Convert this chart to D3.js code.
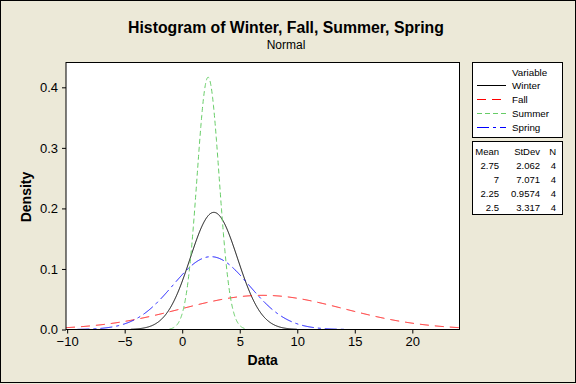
<!DOCTYPE html>
<html><head><meta charset="utf-8">
<script src="https://cdn.jsdelivr.net/npm/d3@7"></script>
<style>
html,body{margin:0;padding:0;background:#ECE9D8;}
svg{display:block;}
text{font-family:"Liberation Sans",Arial,sans-serif;fill:#000;}
</style></head>
<body><svg id="chart" width="576" height="384"></svg>
<script>
const variables = ["Winter", "Fall", "Summer", "Spring"];
const means = [2.75, 7, 2.25, 2.5];
const stdevs = [2.062, 7.071, 0.9574, 3.317];
const counts = [4, 4, 4, 4];
const xTicks = [-10, -5, 0, 5, 10, 15, 20];
const yTicks = [0, 0.1, 0.2, 0.3, 0.4];
const xDomain = [-10.1, 24.1];
const yDomain = [0, 0.441];

const colors = ["#000000", "#FF0000", "#66CC66", "#0000FF"];
const dashes = [null, "9,6", "5,3", "12,4,3,4"];

const svg = d3.select("#chart");
const W = 576, H = 384;
const plot = {left: 66, right: 459.5, top: 62.5, bottom: 329.5};

svg.append("rect").attr("x", 0).attr("y", 0).attr("width", W).attr("height", H).attr("fill", "#ECE9D8");
svg.append("rect").attr("x", 0.5).attr("y", 0.5).attr("width", 575).attr("height", 382)
  .attr("fill", "none").attr("stroke", "#000").attr("stroke-width", 1);

const x = d3.scaleLinear().domain(xDomain).range([plot.left, plot.right]);
const y = d3.scaleLinear().domain(yDomain).range([plot.bottom, plot.top]);

svg.append("rect").attr("x", plot.left).attr("y", plot.top)
  .attr("width", plot.right - plot.left).attr("height", plot.bottom - plot.top)
  .attr("fill", "#fff");

svg.append("defs").append("clipPath").attr("id", "clip").append("rect")
  .attr("x", plot.left).attr("y", plot.top - 1)
  .attr("width", plot.right - plot.left).attr("height", plot.bottom - plot.top + 2);

// Fitted normal density curves
const pdf = (v, m, s) => Math.exp(-0.5 * ((v - m) / s) ** 2) / (s * Math.sqrt(2 * Math.PI));
const line = d3.line().x(d => x(d[0])).y(d => y(d[1]));
const curves = svg.append("g").attr("clip-path", "url(#clip)");
variables.forEach((name, i) => {
  const lo = Math.max(xDomain[0], means[i] - 3.5 * stdevs[i]);
  const hi = Math.min(xDomain[1], means[i] + 3.5 * stdevs[i]);
  const pts = d3.range(lo, hi, 0.02).concat([hi]).map(v => [v, pdf(v, means[i], stdevs[i])]);
  curves.append("path").datum(pts).attr("d", line)
    .attr("fill", "none").attr("stroke", colors[i]).attr("stroke-width", 1)
    .attr("stroke-dasharray", dashes[i]);
});

// Plot frame
svg.append("rect").attr("x", plot.left).attr("y", plot.top)
  .attr("width", plot.right - plot.left).attr("height", plot.bottom - plot.top)
  .attr("fill", "none").attr("stroke", "#000").attr("stroke-width", 1);

// Axes
const xAxis = svg.append("g").attr("transform", `translate(0,${plot.bottom})`)
  .call(d3.axisBottom(x).tickValues(xTicks).tickSize(4).tickPadding(3).tickFormat(d3.format("d")));
const yAxis = svg.append("g").attr("transform", `translate(${plot.left},0)`)
  .call(d3.axisLeft(y).tickValues(yTicks).tickSize(4).tickPadding(4).tickFormat(d3.format(".1f")));
[xAxis, yAxis].forEach(g => {
  g.select(".domain").remove();
  g.selectAll("line").attr("stroke", "#000");
  g.selectAll("text").attr("font-size", 13).attr("font-family", '"Liberation Sans",Arial,sans-serif').attr("fill", "#000");
});

// Titles
svg.append("text").attr("x", 286).attr("y", 33).attr("text-anchor", "middle")
  .attr("font-size", 15.8).attr("font-weight", "bold")
  .text("Histogram of Winter, Fall, Summer, Spring");
svg.append("text").attr("x", 286).attr("y", 49).attr("text-anchor", "middle")
  .attr("font-size", 12).text("Normal");
svg.append("text").attr("x", (plot.left + plot.right) / 2).attr("y", 365).attr("text-anchor", "middle")
  .attr("font-size", 14).attr("font-weight", "bold").text("Data");
svg.append("text").attr("transform", "translate(31,197) rotate(-90)").attr("text-anchor", "middle")
  .attr("font-size", 14).attr("font-weight", "bold").text("Density");

// Legend box
const lg = {left: 472.5, right: 562.5, top: 62.5, bottom: 137.5};
svg.append("rect").attr("x", lg.left).attr("y", lg.top).attr("width", lg.right - lg.left)
  .attr("height", lg.bottom - lg.top).attr("fill", "#fff").attr("stroke", "#000");
svg.append("text").attr("x", 512).attr("y", 75.5).attr("font-size", 9.8).text("Variable");
variables.forEach((name, i) => {
  const yy = 85.5 + i * 14;
  svg.append("line").attr("x1", 477).attr("x2", 506).attr("y1", yy).attr("y2", yy)
    .attr("stroke", colors[i]).attr("stroke-width", 1).attr("stroke-dasharray", dashes[i]);
  svg.append("text").attr("x", 512).attr("y", yy + 3.5).attr("font-size", 9.8).text(name);
});

// Stats box
const sb = {left: 472.5, right: 562.5, top: 141.5, bottom: 214.5};
svg.append("rect").attr("x", sb.left).attr("y", sb.top).attr("width", sb.right - sb.left)
  .attr("height", sb.bottom - sb.top).attr("fill", "#fff").attr("stroke", "#000");
const cols = [499, 540, 556];
["Mean", "StDev", "N"].forEach((h, j) => {
  svg.append("text").attr("x", cols[j]).attr("y", 155).attr("text-anchor", "end")
    .attr("font-size", 9.5).text(h);
});
variables.forEach((name, i) => {
  const yy = 169 + i * 14;
  [String(means[i]), String(stdevs[i]), String(counts[i])].forEach((t, j) => {
    svg.append("text").attr("x", cols[j]).attr("y", yy).attr("text-anchor", "end")
      .attr("font-size", 9.5).text(t);
  });
});
</script></body></html>
